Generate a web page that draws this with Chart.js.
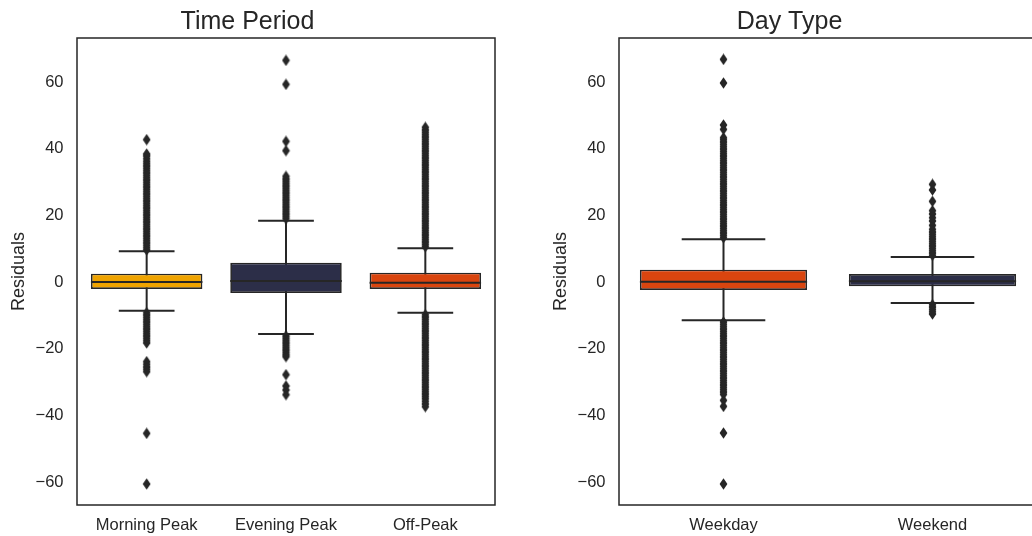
<!DOCTYPE html>
<html>
<head>
<meta charset="utf-8">
<script src="https://cdn.jsdelivr.net/npm/chart.js@4.4.0/dist/chart.umd.min.js"></script>
<style>
  html, body { margin: 0; padding: 0; background: #fff; overflow: hidden; }
  body { width: 1032px; height: 536px; position: relative; }
  canvas { position: absolute; top: 0; }
  #timeChart { left: 0; }
  #dayChart { left: 542px; }
</style>
</head>
<body>
<canvas id="timeChart" width="510" height="536"></canvas>
<canvas id="dayChart" width="510" height="536"></canvas>
<script>
// ---- data ----

const yTicks = [-60, -40, -20, 0, 20, 40, 60];

const timeCats = ["Morning Peak", "Evening Peak", "Off-Peak"];
const timeQ1 = [-2.1, -3.3, -2.1];
const timeMed = [0.0, 0.3, -0.2];
const timeQ3 = [2.5, 5.8, 2.8];
const timeLow = [-8.6, -15.6, -9.2];
const timeHigh = [9.2, 18.4, 10.1];
const timeColors = ["#EFA300", "#2C2E48", "#D9450F"];

const morningOut = [9.6, 10.3, 11, 11.7, 12.4, 13.1, 13.8, 14.5, 15.2, 15.9, 16.6, 17.3, 18, 18.7, 19.4, 20.1,
    20.8, 21.5, 22.2, 22.9, 23.6, 24.3, 25, 25.7, 26.4, 27.1, 27.8, 28.5, 29.2, 29.9, 30.6, 31.3, 32, 32.7,
    33.4, 34.1, 34.8, 35.5, 36.2, 37, 37.8, 38.4, 42.7,
    -9.2, -9.9, -10.6, -11.3, -12, -12.7, -13.4, -14.1, -14.8, -15.5, -16.2, -16.9, -17.6, -18.3,
    -23.9, -24.7, -25.5, -26.2, -26.9, -45.4, -60.6];
const eveningOut = [19, 19.7, 20.4, 21.1, 21.8, 22.5, 23.2, 23.9, 24.6, 25.3, 26, 26.7, 27.4, 28.1, 28.8,
    29.5, 30.2, 30.9, 31.7, 39.4, 42.2, 59.3, 66.5,
    -16.2, -16.9, -17.6, -18.3, -19, -19.7, -20.4, -21.1, -21.8, -22.4, -27.8, -31.2, -32.4, -33.8];
const offPeakOut = [10.6, 11.3, 12, 12.7, 13.4, 14.1, 14.8, 15.5, 16.2, 16.9, 17.6, 18.3, 19, 19.7, 20.4,
    21.1, 21.8, 22.5, 23.2, 23.9, 24.6, 25.3, 26, 26.7, 27.4, 28.1, 28.8, 29.5, 30.2, 30.9, 31.6, 32.3, 33,
    33.7, 34.4, 35.1, 35.8, 36.5, 37.2, 37.9, 38.6, 39.3, 40, 40.7, 41.4, 42.1, 42.8, 43.5, 44.2, 44.9, 45.6, 46.4,
    -9.8, -10.5, -11.2, -11.9, -12.6, -13.3, -14, -14.7, -15.4, -16.1, -16.8, -17.5, -18.2, -18.9, -19.6,
    -20.3, -21, -21.7, -22.4, -23.1, -23.8, -24.5, -25.2, -25.9, -26.6, -27.3, -28, -28.7, -29.4, -30.1,
    -30.8, -31.5, -32.2, -32.9, -33.6, -34.3, -35, -35.8, -36.6, -37.4];

const dayCats = ["Weekday", "Weekend"];
const dayQ1 = [-2.4, -1.3];
const dayMed = [0.1, 0.2];
const dayQ3 = [3.7, 2.4];
const dayLow = [-11.5, -6.3];
const dayHigh = [12.8, 7.5];
const dayColors = ["#D9450F", "#2C2E48"];

const weekdayOut = [13.3, 14, 14.7, 15.4, 16.1, 16.8, 17.5, 18.2, 18.9, 19.6, 20.3, 21, 21.7, 22.4, 23.1,
    23.8, 24.5, 25.2, 25.9, 26.6, 27.3, 28, 28.7, 29.4, 30.1, 30.8, 31.5, 32.2, 32.9, 33.6, 34.3, 35, 35.7,
    36.4, 37.1, 37.8, 38.5, 39.2, 39.9, 40.6, 41.3, 42, 42.7, 43.3, 45.8, 47.1, 59.7, 66.8,
    -12, -12.7, -13.4, -14.1, -14.8, -15.5, -16.2, -16.9, -17.6, -18.3, -19, -19.7, -20.4, -21.1, -21.8,
    -22.5, -23.2, -23.9, -24.6, -25.3, -26, -26.7, -27.4, -28.1, -28.8, -29.5, -30.2, -30.9, -31.6, -32.3,
    -33, -33.7, -35.5, -37.3, -45.3, -60.6];
const weekendOut = [8, 8.7, 9.4, 10.1, 10.8, 11.5, 12.2, 12.9, 13.6, 14.3, 15, 15.8, 17, 18.3, 19.3, 20.4,
    21.4, 24.2, 27.6, 29.3,
    -6.8, -7.5, -8.2, -8.9, -9.6];

// ---- style ----

const edge = "#262626";
Chart.defaults.font.family = '"Liberation Sans", Arial, sans-serif';
Chart.defaults.color = edge;

// thin diamond flier marker
const diamond = document.createElement("canvas");
diamond.width = 9;
diamond.height = 12;
(function () {
    const d = diamond.getContext("2d");
    d.fillStyle = edge;
    d.beginPath();
    d.moveTo(4.5, 0.2);
    d.lineTo(8.4, 6);
    d.lineTo(4.5, 11.8);
    d.lineTo(0.6, 6);
    d.closePath();
    d.fill();
})();

// whiskers, caps, medians and the frame
const boxExtras = {
    id: "boxExtras",
    beforeDatasetsDraw(chart, args, opts) {
        const x = chart.scales.x, y = chart.scales.y, c = chart.ctx;
        const step = x.getPixelForValue(1) - x.getPixelForValue(0);
        c.save();
        c.strokeStyle = edge;
        c.lineWidth = 2;
        opts.lo.forEach((lo, i) => {
            const px = x.getPixelForValue(i);
            const top = y.getPixelForValue(opts.hi[i]);
            const bot = y.getPixelForValue(lo);
            c.beginPath();
            c.moveTo(px, top);
            c.lineTo(px, bot);
            c.moveTo(px - step * 0.2, top);
            c.lineTo(px + step * 0.2, top);
            c.moveTo(px - step * 0.2, bot);
            c.lineTo(px + step * 0.2, bot);
            c.stroke();
        });
        c.restore();
    },
    afterDatasetsDraw(chart, args, opts) {
        const x = chart.scales.x, y = chart.scales.y, c = chart.ctx;
        const step = x.getPixelForValue(1) - x.getPixelForValue(0);
        c.save();
        c.strokeStyle = edge;
        c.lineWidth = 2;
        opts.med.forEach((m, i) => {
            const px = x.getPixelForValue(i);
            const py = y.getPixelForValue(m);
            c.beginPath();
            c.moveTo(px - step * 0.4, py);
            c.lineTo(px + step * 0.4, py);
            c.stroke();
        });
        const a = chart.chartArea;
        c.lineWidth = 1.5;
        c.strokeRect(a.left, a.top, a.right - a.left, a.bottom - a.top);
        c.restore();
    }
};

function boxChart(id, title, cats, q1, med, q3, lo, hi, colors, outliers) {
    const points = [];
    cats.forEach((cat, i) => outliers[i].forEach(v => points.push({ x: cat, y: v })));

    return new Chart(document.getElementById(id).getContext("2d"), {
        type: "bar",
        data: {
            labels: cats,
            datasets: [
                {
                    type: "line",
                    data: points,
                    showLine: false,
                    pointStyle: diamond,
                    order: 0
                },
                {
                    data: cats.map((c, i) => [q1[i], q3[i]]),
                    backgroundColor: colors,
                    borderColor: edge,
                    borderWidth: 1.7,
                    borderSkipped: false,
                    categoryPercentage: 0.8,
                    barPercentage: 1,
                    order: 1
                }
            ]
        },
        options: {
            responsive: false,
            animation: false,
            events: [],
            layout: { padding: { left: 0, right: 15, top: 0, bottom: 0 } },
            scales: {
                x: {
                    grid: { display: false, drawTicks: false },
                    border: { display: false },
                    ticks: { font: { size: 16.5 }, padding: 11 },
                    afterFit: s => { s.height = 31; }
                },
                y: {
                    min: -66.9,
                    max: 73.2,
                    grid: { display: false, drawTicks: false },
                    border: { display: false },
                    afterBuildTicks: s => { s.ticks = yTicks.map(v => ({ value: v })); },
                    ticks: {
                        font: { size: 16.5 },
                        padding: 13.5,
                        callback: v => v < 0 ? "\u2212" + Math.abs(v) : String(v)
                    },
                    title: {
                        display: true,
                        text: "Residuals",
                        font: { size: 18 },
                        padding: { top: 8.7, bottom: 0 }
                    },
                    afterFit: s => { s.width = 77; }
                }
            },
            plugins: {
                legend: { display: false },
                tooltip: { enabled: false },
                title: {
                    display: true,
                    text: title,
                    font: { size: 25, weight: "normal" },
                    padding: { top: 7, bottom: 1 }
                },
                boxExtras: { med: med, lo: lo, hi: hi }
            }
        },
        plugins: [boxExtras]
    });
}

boxChart("timeChart", "Time Period", timeCats, timeQ1, timeMed, timeQ3, timeLow, timeHigh, timeColors,
    [morningOut, eveningOut, offPeakOut]);
boxChart("dayChart", "Day Type", dayCats, dayQ1, dayMed, dayQ3, dayLow, dayHigh, dayColors,
    [weekdayOut, weekendOut]);
</script>
</body>
</html>
